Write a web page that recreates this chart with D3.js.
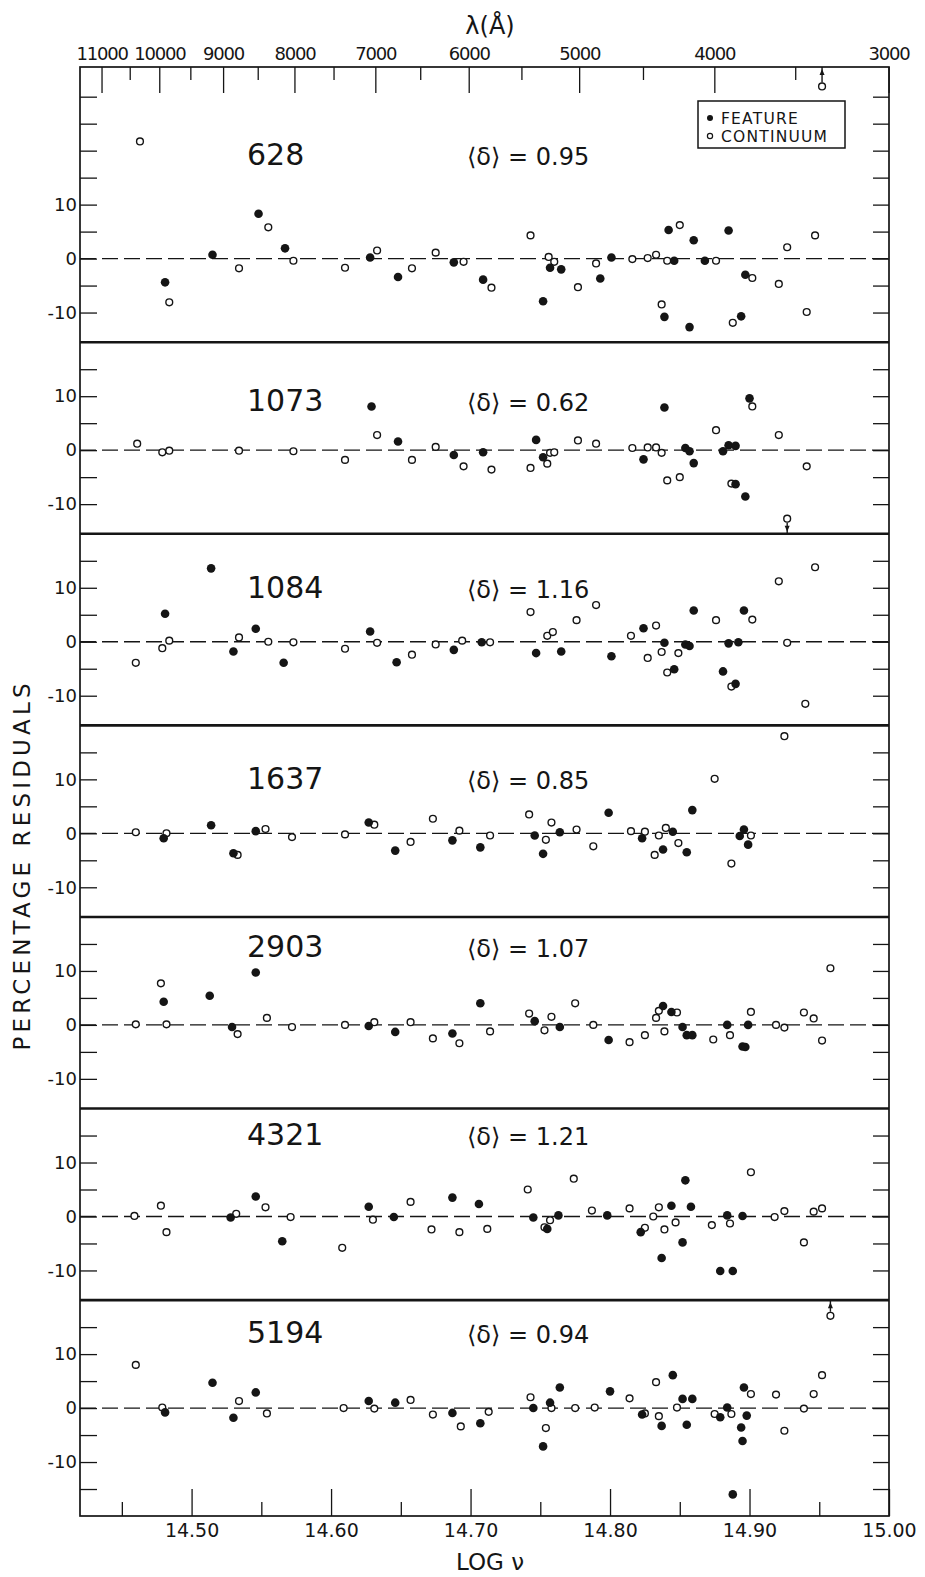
<!DOCTYPE html>
<html>
<head>
<meta charset="utf-8">
<script src="https://cdn.jsdelivr.net/npm/d3@7"></script>
<style>
body { margin: 0; background: #fff; }
text { font-family: "DejaVu Sans", "Noto Sans", sans-serif; fill: #151515; }
</style>
</head>
<body>
<div id="chart"></div>
<script>
// star numbers and mean residual per panel
var stars = ["628", "1073", "1084", "1637", "2903", "4321", "5194"];
var meanDelta = ["0.95", "0.62", "1.16", "0.85", "1.07", "1.21", "0.94"];

// [log nu, percentage residual]
var feature628 = [[14.481,-4.4],[14.515,0.7],[14.548,8.3],[14.567,1.9],[14.628,0.2],[14.648,-3.4],[14.688,-0.7],[14.709,-3.9],[14.752,-7.9],[14.757,-1.7],[14.765,-2.0],[14.793,-3.7],[14.801,0.2],[14.839,-10.8],[14.842,5.3],[14.846,-0.4],[14.857,-12.7],[14.860,3.4],[14.868,-0.4],[14.885,5.2],[14.894,-10.7],[14.897,-3.0]];
var continuum628 = [[14.463,21.7],[14.484,-8.1],[14.534,-1.8],[14.555,5.8],[14.573,-0.4],[14.610,-1.7],[14.633,1.5],[14.658,-1.8],[14.675,1.1],[14.695,-0.6],[14.715,-5.4],[14.743,4.3],[14.756,0.3],[14.760,-0.6],[14.777,-5.3],[14.790,-0.9],[14.816,-0.1],[14.827,0.1],[14.833,0.7],[14.837,-8.5],[14.841,-0.4],[14.850,6.2],[14.876,-0.4],[14.888,-11.9],[14.902,-3.6],[14.921,-4.7],[14.927,2.1],[14.941,-9.9],[14.947,4.3],[14.952,31.9]];

var feature1073 = [[14.629,8.1],[14.648,1.6],[14.688,-0.9],[14.709,-0.4],[14.747,1.9],[14.752,-1.3],[14.824,-1.7],[14.839,7.9],[14.854,0.4],[14.857,-0.2],[14.860,-2.4],[14.881,-0.2],[14.885,0.9],[14.890,0.8],[14.890,-6.3],[14.897,-8.6],[14.900,9.6]];
var continuum1073 = [[14.461,1.2],[14.479,-0.4],[14.484,-0.1],[14.534,-0.1],[14.573,-0.2],[14.610,-1.8],[14.633,2.8],[14.658,-1.8],[14.675,0.6],[14.695,-3.0],[14.715,-3.6],[14.743,-3.3],[14.755,-2.5],[14.757,-0.5],[14.760,-0.4],[14.777,1.8],[14.790,1.2],[14.816,0.4],[14.827,0.5],[14.833,0.5],[14.837,-0.5],[14.841,-5.6],[14.850,-5.0],[14.876,3.7],[14.887,-6.2],[14.902,8.1],[14.921,2.8],[14.927,-12.7],[14.941,-3.0]];

var feature1084 = [[14.481,5.2],[14.514,13.6],[14.530,-1.8],[14.546,2.4],[14.566,-3.9],[14.628,1.9],[14.647,-3.8],[14.688,-1.5],[14.708,-0.1],[14.747,-2.1],[14.765,-1.8],[14.801,-2.7],[14.824,2.5],[14.839,-0.2],[14.846,-5.1],[14.854,-0.5],[14.857,-0.8],[14.860,5.8],[14.881,-5.5],[14.885,-0.3],[14.890,-7.8],[14.892,-0.1],[14.896,5.8]];
var continuum1084 = [[14.460,-3.9],[14.479,-1.2],[14.484,0.2],[14.534,0.8],[14.555,0.0],[14.573,-0.1],[14.610,-1.3],[14.633,-0.2],[14.658,-2.4],[14.675,-0.5],[14.694,0.2],[14.714,-0.1],[14.743,5.5],[14.755,1.1],[14.759,1.8],[14.776,4.0],[14.790,6.8],[14.815,1.1],[14.827,-3.0],[14.833,3.0],[14.837,-1.9],[14.841,-5.7],[14.849,-2.1],[14.876,4.0],[14.887,-8.3],[14.902,4.1],[14.921,11.2],[14.927,-0.2],[14.940,-11.5],[14.947,13.8]];

var feature1637 = [[14.480,-0.9],[14.514,1.5],[14.530,-3.7],[14.546,0.4],[14.627,2.0],[14.646,-3.2],[14.687,-1.3],[14.707,-2.6],[14.746,-0.4],[14.752,-3.8],[14.764,0.2],[14.799,3.8],[14.823,-0.9],[14.838,-3.0],[14.845,0.3],[14.855,-3.5],[14.859,4.3],[14.893,-0.5],[14.896,0.7],[14.899,-2.1]];
var continuum1637 = [[14.460,0.2],[14.482,0.0],[14.533,-4.0],[14.553,0.8],[14.572,-0.7],[14.610,-0.2],[14.631,1.6],[14.657,-1.6],[14.673,2.7],[14.692,0.5],[14.714,-0.4],[14.742,3.5],[14.754,-1.2],[14.758,2.0],[14.776,0.7],[14.788,-2.4],[14.815,0.4],[14.825,0.3],[14.832,-4.0],[14.835,-0.4],[14.840,1.0],[14.849,-1.8],[14.875,10.1],[14.887,-5.6],[14.901,-0.4],[14.925,18.0]];

var feature2903 = [[14.480,4.3],[14.513,5.4],[14.529,-0.4],[14.546,9.7],[14.627,-0.2],[14.646,-1.3],[14.687,-1.6],[14.707,4.0],[14.746,0.7],[14.764,-0.4],[14.799,-2.8],[14.838,3.5],[14.844,2.4],[14.852,-0.4],[14.855,-1.9],[14.859,-1.9],[14.884,0.0],[14.895,-4.0],[14.897,-4.1],[14.899,0.0]];
var continuum2903 = [[14.460,0.1],[14.478,7.7],[14.482,0.1],[14.533,-1.7],[14.554,1.3],[14.572,-0.4],[14.610,0.0],[14.631,0.5],[14.657,0.5],[14.673,-2.5],[14.692,-3.4],[14.714,-1.2],[14.742,2.1],[14.753,-1.0],[14.758,1.5],[14.775,4.0],[14.788,0.0],[14.814,-3.2],[14.825,-1.9],[14.833,1.3],[14.835,2.6],[14.839,-1.2],[14.848,2.3],[14.874,-2.7],[14.886,-1.9],[14.901,2.4],[14.919,0.0],[14.925,-0.5],[14.939,2.3],[14.946,1.2],[14.952,-2.9],[14.958,10.5]];

var feature4321 = [[14.528,-0.2],[14.546,3.7],[14.565,-4.6],[14.627,1.8],[14.645,-0.1],[14.687,3.5],[14.706,2.3],[14.745,-0.2],[14.755,-2.3],[14.763,0.2],[14.798,0.2],[14.822,-2.9],[14.837,-7.7],[14.844,2.0],[14.852,-4.8],[14.854,6.7],[14.858,1.8],[14.879,-10.1],[14.884,0.2],[14.888,-10.1],[14.895,0.1]];
var continuum4321 = [[14.459,0.1],[14.478,2.0],[14.482,-2.9],[14.532,0.5],[14.553,1.7],[14.571,-0.1],[14.608,-5.8],[14.630,-0.6],[14.657,2.7],[14.672,-2.4],[14.692,-2.9],[14.712,-2.3],[14.741,5.0],[14.753,-2.0],[14.757,-0.7],[14.774,7.0],[14.787,1.1],[14.814,1.5],[14.825,-2.1],[14.831,0.0],[14.835,1.7],[14.839,-2.4],[14.847,-1.1],[14.873,-1.6],[14.886,-1.3],[14.901,8.2],[14.918,-0.1],[14.925,1.0],[14.939,-4.8],[14.946,0.9],[14.952,1.5]];

var feature5194 = [[14.481,-0.8],[14.515,4.7],[14.530,-1.8],[14.546,2.9],[14.627,1.3],[14.646,1.0],[14.687,-0.9],[14.707,-2.8],[14.745,0.0],[14.752,-7.1],[14.757,1.0],[14.764,3.8],[14.800,3.1],[14.823,-1.2],[14.837,-3.3],[14.845,6.1],[14.852,1.7],[14.855,-3.1],[14.859,1.7],[14.879,-1.7],[14.884,0.1],[14.888,-16.0],[14.894,-3.6],[14.895,-6.1],[14.896,3.8],[14.898,-1.4]];
var continuum5194 = [[14.460,8.0],[14.479,0.1],[14.534,1.3],[14.554,-1.0],[14.609,0.0],[14.631,-0.1],[14.657,1.5],[14.673,-1.2],[14.693,-3.4],[14.713,-0.7],[14.743,2.0],[14.754,-3.7],[14.758,0.0],[14.775,0.0],[14.789,0.1],[14.814,1.8],[14.825,-1.0],[14.833,4.8],[14.835,-1.5],[14.848,0.1],[14.875,-1.1],[14.887,-1.1],[14.901,2.6],[14.919,2.5],[14.925,-4.2],[14.939,-0.1],[14.946,2.6],[14.952,6.1],[14.958,17.1]];

var features = [feature628, feature1073, feature1084, feature1637, feature2903, feature4321, feature5194];
var continua = [continuum628, continuum1073, continuum1084, continuum1637, continuum2903, continuum4321, continuum5194];

// points with an arrow to the panel edge: [panel, log nu, residual, direction]
var offScale = [[0, 14.952, 31.9, 1], [1, 14.927, -12.7, -1], [6, 14.958, 17.1, 1]];

// axis ticks
var wavelengths = [11000, 10000, 9000, 8000, 7000, 6000, 5000, 4000, 3000];
var minorWavelengths = [10500, 9500, 8500, 7500, 6500, 5500, 4500, 3500];
var logNuTicks = [14.50, 14.60, 14.70, 14.80, 14.90, 15.00];
var logNuMinor = [14.45, 14.55, 14.65, 14.75, 14.85, 14.95];
var residualLabels = [10, 0, -10];

// y range shown in each panel
var panelDomains = [[-15.5, 35.5], [-15.5, 20], [-15.5, 20], [-15.5, 20], [-15.5, 20], [-15.5, 20], [-20, 20]];
// label baseline, in residual units of each panel
var labelAt = [17.4, 7.2, 8.1, 8.3, 12.6, 13.3, 12.0];

var W = 925, H = 1577;
var plotLeft = 80, plotRight = 889, plotTop = 67, plotBottom = 1516;
var ink = "#151515";

var svg = d3.select("#chart").append("svg")
    .attr("width", W)
    .attr("height", H);

var x = d3.scaleLinear().domain([14.42, 15.00]).range([plotLeft, plotRight]);

// log nu of a wavelength in angstrom
function lamToNu(l) { return Math.log10(2.998e18 / l); }

// stack the panels, same px per percent everywhere
var totalUnits = d3.sum(panelDomains, d => d[1] - d[0]);
var unit = (plotBottom - plotTop) / totalUnits;
var yCursor = plotTop;
var panels = panelDomains.map(function (dom) {
    var h = (dom[1] - dom[0]) * unit;
    var p = { top: yCursor, bottom: yCursor + h, y: d3.scaleLinear().domain(dom).range([yCursor + h, yCursor]) };
    yCursor += h;
    return p;
});

panels.forEach(function (p, i) {
    var g = svg.append("g");
    var dom = panelDomains[i];
    var ticks = d3.range(Math.ceil(dom[0] / 5) * 5, dom[1], 5).filter(v => v > dom[0] + 1 && v < dom[1] - 0.6);

    var la = g.append("g")
        .attr("transform", "translate(" + plotLeft + ",0)")
        .call(d3.axisLeft(p.y).tickValues(ticks).tickSizeInner(-17).tickSizeOuter(0).tickPadding(3)
            .tickFormat(v => residualLabels.indexOf(v) >= 0 ? (v < 0 ? "-" + Math.abs(v) : v) : ""));
    la.select(".domain").remove();
    la.selectAll("line").attr("stroke", ink).attr("stroke-width", 1.3);
    la.selectAll("text").attr("font-size", 18).attr("fill", ink).style("font-family", "DejaVu Sans");

    var ra = g.append("g")
        .attr("transform", "translate(" + plotRight + ",0)")
        .call(d3.axisRight(p.y).tickValues(ticks).tickSizeInner(-16).tickSizeOuter(0).tickFormat(""));
    ra.select(".domain").remove();
    ra.selectAll("line").attr("stroke", ink).attr("stroke-width", 1.3);

    // zero line
    g.append("line")
        .attr("x1", plotLeft).attr("x2", plotRight)
        .attr("y1", p.y(0)).attr("y2", p.y(0))
        .attr("stroke", ink).attr("stroke-width", 1.3)
        .attr("stroke-dasharray", "16,6");

    // star number and mean residual
    g.append("text")
        .attr("x", 247).attr("y", p.y(labelAt[i]))
        .attr("font-size", 30)
        .text(stars[i]);
    g.append("text")
        .attr("x", 467).attr("y", p.y(labelAt[i]))
        .attr("font-size", 24)
        .text("\u27E8\u03B4\u27E9 = " + meanDelta[i]);

    g.selectAll(".cont")
        .data(continua[i])
        .enter().append("circle")
        .attr("cx", d => x(d[0]))
        .attr("cy", d => p.y(d[1]))
        .attr("r", 3.4)
        .attr("fill", "#fff")
        .attr("stroke", ink)
        .attr("stroke-width", 1.4);

    g.selectAll(".feat")
        .data(features[i])
        .enter().append("circle")
        .attr("cx", d => x(d[0]))
        .attr("cy", d => p.y(d[1]))
        .attr("r", 4.3)
        .attr("fill", ink);
});

// arrows for points beyond the plotted range
offScale.forEach(function (d) {
    var p = panels[d[0]];
    var cx = x(d[1]), cy = p.y(d[2]);
    var edge = d[3] > 0 ? p.top : p.bottom;
    var start = cy - d[3] * 4;
    svg.append("line")
        .attr("x1", cx).attr("x2", cx)
        .attr("y1", start).attr("y2", edge)
        .attr("stroke", ink).attr("stroke-width", 1.4);
    var tip = edge + d[3] * 2, base = tip + d[3] * 6;
    svg.append("path")
        .attr("d", "M" + cx + "," + tip + "L" + (cx - 2.5) + "," + base + "L" + (cx + 2.5) + "," + base + "Z")
        .attr("fill", ink);
});

// top wavelength axis
var ta = svg.append("g")
    .attr("transform", "translate(0," + plotTop + ")")
    .call(d3.axisTop(x).tickValues(wavelengths.map(lamToNu)).tickSizeInner(-26).tickSizeOuter(0).tickPadding(7)
        .tickFormat((v, i) => wavelengths[i]));
ta.select(".domain").remove();
ta.selectAll("line").attr("stroke", ink).attr("stroke-width", 1.3);
ta.selectAll("text").attr("font-size", 18).attr("fill", ink)
    .attr("letter-spacing", -1.2).style("font-family", "DejaVu Sans");

var tm = svg.append("g")
    .attr("transform", "translate(0," + plotTop + ")")
    .call(d3.axisTop(x).tickValues(minorWavelengths.map(lamToNu)).tickSizeInner(-13).tickSizeOuter(0).tickFormat(""));
tm.select(".domain").remove();
tm.selectAll("line").attr("stroke", ink).attr("stroke-width", 1.3);

// bottom log nu axis
var ba = svg.append("g")
    .attr("transform", "translate(0," + plotBottom + ")")
    .call(d3.axisBottom(x).tickValues(logNuTicks).tickSizeInner(-27).tickSizeOuter(0).tickPadding(8)
        .tickFormat(d3.format(".2f")));
ba.select(".domain").remove();
ba.selectAll("line").attr("stroke", ink).attr("stroke-width", 1.3);
ba.selectAll("text").attr("font-size", 19).attr("fill", ink).style("font-family", "DejaVu Sans");

var bm = svg.append("g")
    .attr("transform", "translate(0," + plotBottom + ")")
    .call(d3.axisBottom(x).tickValues(logNuMinor).tickSizeInner(-14).tickSizeOuter(0).tickFormat(""));
bm.select(".domain").remove();
bm.selectAll("line").attr("stroke", ink).attr("stroke-width", 1.3);

// frame and panel separators
svg.append("rect")
    .attr("x", plotLeft).attr("y", plotTop)
    .attr("width", plotRight - plotLeft).attr("height", plotBottom - plotTop)
    .attr("fill", "none").attr("stroke", ink).attr("stroke-width", 1.7);

svg.selectAll(".sep")
    .data(panels.slice(1))
    .enter().append("line")
    .attr("x1", plotLeft).attr("x2", plotRight)
    .attr("y1", d => d.top).attr("y2", d => d.top)
    .attr("stroke", ink).attr("stroke-width", 2.6);

// legend
var lg = svg.append("g");
lg.append("rect")
    .attr("x", 698).attr("y", 101).attr("width", 147).attr("height", 47)
    .attr("fill", "#fff").attr("stroke", ink).attr("stroke-width", 1.5);
lg.append("circle").attr("cx", 710).attr("cy", 118).attr("r", 3).attr("fill", ink);
lg.append("text").attr("x", 721).attr("y", 123.5).attr("font-size", 15.5)
    .attr("letter-spacing", 1.2).text("FEATURE");
lg.append("circle").attr("cx", 710).attr("cy", 136).attr("r", 2.6)
    .attr("fill", "#fff").attr("stroke", ink).attr("stroke-width", 1.2);
lg.append("text").attr("x", 721).attr("y", 141.5).attr("font-size", 15.5)
    .attr("letter-spacing", 1.2).text("CONTINUUM");

// axis titles
svg.append("text")
    .attr("x", 490).attr("y", 34)
    .attr("text-anchor", "middle").attr("font-size", 24)
    .text("\u03BB(\u00C5)");

svg.append("text")
    .attr("x", 490).attr("y", 1570)
    .attr("text-anchor", "middle").attr("font-size", 23)
    .text("LOG \u03BD");

svg.append("text")
    .attr("transform", "translate(30,867) rotate(-90)")
    .attr("text-anchor", "middle").attr("font-size", 23)
    .attr("textLength", 367).attr("lengthAdjust", "spacing")
    .text("PERCENTAGE RESIDUALS");
</script>
</body>
</html>
